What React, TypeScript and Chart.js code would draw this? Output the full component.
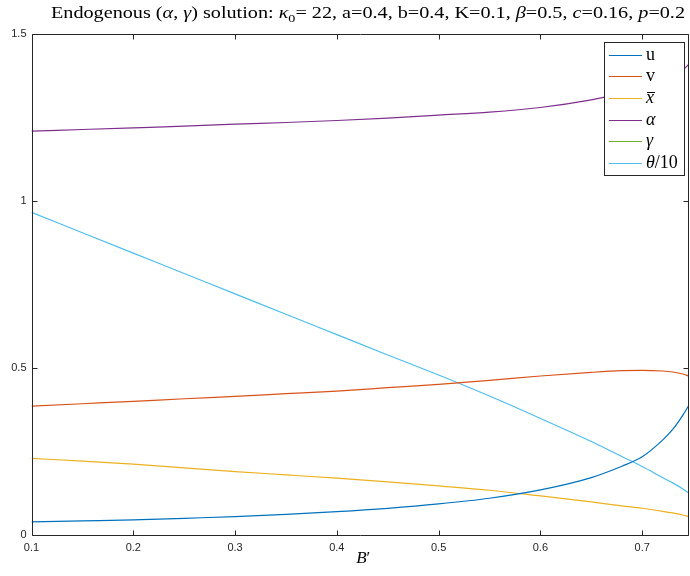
import { useEffect, useRef } from "react";
import { Chart, registerables } from "chart.js";
Chart.register(...registerables);

// B' values (x axis)
const B_PRIME = [0.1, 0.15, 0.2, 0.25, 0.3, 0.35, 0.4, 0.45, 0.5, 0.55, 0.6, 0.65, 0.68, 0.7, 0.72, 0.73, 0.74, 0.746];
const U = [0.039, 0.042, 0.045, 0.05, 0.055, 0.062, 0.07, 0.08, 0.093, 0.11, 0.135, 0.172, 0.206, 0.234, 0.284, 0.316, 0.359, 0.389];
const V = [0.386, 0.393, 0.4, 0.408, 0.415, 0.423, 0.431, 0.441, 0.451, 0.463, 0.476, 0.487, 0.492, 0.493, 0.491, 0.488, 0.482, 0.476];
const XBAR = [0.2296, 0.221, 0.212, 0.201, 0.19, 0.18, 0.17, 0.159, 0.147, 0.134, 0.117, 0.099, 0.087, 0.08, 0.071, 0.066, 0.06, 0.055];
const ALPHA = [1.209, 1.214, 1.219, 1.224, 1.23, 1.235, 1.241, 1.248, 1.257, 1.266, 1.28, 1.303, 1.322, 1.338, 1.358, 1.372, 1.392, 1.41];
// gamma is listed in the legend but not visible within the plotted range
const GAMMA: (number | null)[] = [];
const THETA10 = [0.966, 0.905, 0.844, 0.783, 0.722, 0.661, 0.6, 0.539, 0.479, 0.416, 0.349, 0.28, 0.235, 0.205, 0.172, 0.156, 0.138, 0.125];

const SERIES_LABELS = ["u", "v", "x̄", "α", "γ", "θ/10"];
const SERIES_COLORS = ["#0072BD", "#D95319", "#EDB120", "#7E2F8E", "#77AC30", "#4DBEEE"];
const X_TICKS = [0.1, 0.2, 0.3, 0.4, 0.5, 0.6, 0.7];
const Y_TICKS = [0, 0.5, 1, 1.5];
const X_MIN = 0.1;
const X_MAX = 0.746;
const Y_MIN = 0;
const Y_MAX = 1.5;

type Seg = { t: string; it?: boolean; sub?: boolean; over?: boolean };

const TITLE: Seg[] = [
  { t: "Endogenous (" },
  { t: "α", it: true },
  { t: ", " },
  { t: "γ", it: true },
  { t: ") solution: " },
  { t: "κ", it: true },
  { t: "0", sub: true },
  { t: "= 22, a=0.4, b=0.4, K=0.1, " },
  { t: "β", it: true },
  { t: "=0.5, " },
  { t: "c", it: true },
  { t: "=0.16, " },
  { t: "p", it: true },
  { t: "=0.2" },
];
const X_LABEL: Seg[] = [{ t: "B", it: true }, { t: "′" }];
const LEGEND_SEGS: Record<string, Seg[]> = {
  u: [{ t: "u" }],
  v: [{ t: "v" }],
  "x̄": [{ t: "x", it: true, over: true }],
  "α": [{ t: "α", it: true }],
  "γ": [{ t: "γ", it: true }],
  "θ/10": [{ t: "θ", it: true }, { t: "/10" }],
};

const SERIF = '"Liberation Serif", "DejaVu Serif", serif';
const AX = "#262626";

function segFont(s: Seg, size: number) {
  return `${s.it ? "italic " : ""}${s.sub ? size * 0.7 : size}px ${SERIF}`;
}
function measure(ctx: CanvasRenderingContext2D, segs: Seg[], size: number) {
  let w = 0;
  for (const s of segs) {
    ctx.font = segFont(s, size);
    w += ctx.measureText(s.t).width;
  }
  return w;
}
function drawRich(ctx: CanvasRenderingContext2D, segs: Seg[], x: number, y: number, size: number) {
  let cx = x;
  ctx.textAlign = "left";
  for (const s of segs) {
    ctx.font = segFont(s, size);
    const w = ctx.measureText(s.t).width;
    ctx.fillText(s.t, cx, s.sub ? y + size * 0.22 : y);
    if (s.over) {
      ctx.save();
      ctx.strokeStyle = ctx.fillStyle as string;
      ctx.lineWidth = 1;
      ctx.beginPath();
      const oy = Math.round(y - size * 0.58) + 0.5;
      ctx.moveTo(cx + 1, oy);
      ctx.lineTo(cx + w + 1, oy);
      ctx.stroke();
      ctx.restore();
    }
    cx += w;
  }
}

const framePlugin = {
  id: "matlabFrame",
  afterDraw(chart: any) {
    const ctx: CanvasRenderingContext2D = chart.ctx;
    const { left, right, top, bottom } = chart.chartArea;
    const xs = chart.scales.x;
    const ys = chart.scales.y;
    const L = Math.round(left) + 0.5;
    const R = Math.round(right) - 0.5;
    const T = Math.round(top) + 0.5;
    const B = Math.round(bottom) + 0.5;
    ctx.save();
    ctx.strokeStyle = AX;
    ctx.lineWidth = 1;
    ctx.beginPath();
    ctx.moveTo(L, T);
    ctx.lineTo(R, T);
    ctx.lineTo(R, B);
    ctx.lineTo(L, B);
    ctx.closePath();
    ctx.stroke();
    const tl = 5;
    ctx.beginPath();
    for (const v of X_TICKS) {
      const px = Math.round(xs.getPixelForValue(v)) + 0.5;
      ctx.moveTo(px, B);
      ctx.lineTo(px, B - tl);
      ctx.moveTo(px, T);
      ctx.lineTo(px, T + tl);
    }
    for (const v of Y_TICKS) {
      const py = Math.round(ys.getPixelForValue(v)) + 0.5;
      ctx.moveTo(L, py);
      ctx.lineTo(L + tl, py);
      ctx.moveTo(R, py);
      ctx.lineTo(R - tl, py);
    }
    ctx.stroke();

    // title (stretched horizontally to match the wider TeX-style face)
    ctx.fillStyle = "#000";
    ctx.textBaseline = "alphabetic";
    const tSize = 16;
    const tw = measure(ctx, TITLE, tSize);
    const targetW = 634;
    const sx = targetW / tw;
    ctx.save();
    ctx.translate(51, 18);
    ctx.scale(sx, 1);
    drawRich(ctx, TITLE, 0, 0, tSize);
    ctx.restore();

    // x label
    const xlSize = 17;
    const xw = measure(ctx, X_LABEL, xlSize);
    ctx.fillStyle = "#000";
    drawRich(ctx, X_LABEL, (left + right) / 2 + 3 - xw / 2, 563, xlSize);

    // legend
    const lx0 = 604.5, ly0 = 42.5, lx1 = 684.5, ly1 = 175.5;
    ctx.fillStyle = "#fff";
    ctx.fillRect(lx0, ly0, lx1 - lx0, ly1 - ly0);
    ctx.strokeStyle = AX;
    ctx.lineWidth = 1;
    ctx.strokeRect(lx0, ly0, lx1 - lx0, ly1 - ly0);
    chart.data.datasets.forEach((ds: any, i: number) => {
      const cy = 54.5 + i * 21.7;
      ctx.strokeStyle = ds.borderColor;
      ctx.lineWidth = 1;
      ctx.beginPath();
      ctx.moveTo(609, Math.round(cy) + 0.5);
      ctx.lineTo(642, Math.round(cy) + 0.5);
      ctx.stroke();
      ctx.fillStyle = "#000";
      ctx.textBaseline = "alphabetic";
      drawRich(ctx, LEGEND_SEGS[ds.label] || [{ t: ds.label }], 646, cy + 5, 18);
    });
    ctx.restore();
  },
};

export default function App() {
  const ref = useRef<HTMLCanvasElement | null>(null);
  useEffect(() => {
    if (!ref.current) return;
    const series = [U, V, XBAR, ALPHA, GAMMA, THETA10];
    const chart = new Chart(ref.current, {
      type: "line",
      data: {
        datasets: series.map((vals, i) => ({
          label: SERIES_LABELS[i],
          data: vals.map((y, j) => ({ x: B_PRIME[j], y })),
          borderColor: SERIES_COLORS[i],
          backgroundColor: SERIES_COLORS[i],
          borderWidth: 1.2,
          pointRadius: 0,
          cubicInterpolationMode: "monotone" as const,
          fill: false,
        })),
      },
      options: {
        responsive: false,
        animation: false,
        devicePixelRatio: 1,
        layout: { padding: { top: 34, right: 1, left: 0, bottom: 0 } },
        plugins: { legend: { display: false }, title: { display: false }, tooltip: { enabled: false } },
        scales: {
          x: {
            type: "linear",
            min: X_MIN,
            max: X_MAX,
            grid: { display: false, drawTicks: false },
            border: { display: false },
            afterBuildTicks: (s: any) => {
              s.ticks = X_TICKS.map((v) => ({ value: v }));
            },
            afterFit: (s: any) => {
              s.height = 41;
            },
            ticks: {
              padding: 6,
              maxRotation: 0,
              autoSkip: false,
              color: AX,
              font: { family: '"Liberation Sans", Arial, sans-serif', size: 11 },
              callback: (v: any) => String(v),
            },
          },
          y: {
            type: "linear",
            min: Y_MIN,
            max: Y_MAX,
            grid: { display: false, drawTicks: false },
            border: { display: false },
            afterBuildTicks: (s: any) => {
              s.ticks = Y_TICKS.map((v) => ({ value: v }));
            },
            afterFit: (s: any) => {
              s.width = 31.5;
            },
            ticks: {
              padding: 5,
              autoSkip: false,
              color: AX,
              font: { family: '"Liberation Sans", Arial, sans-serif', size: 11 },
              callback: (v: any) => String(v),
            },
          },
        },
      },
      plugins: [framePlugin],
    });
    return () => chart.destroy();
  }, []);
  return (
    <div style={{ position: "fixed", left: 0, top: 0, width: 690, height: 576, background: "#fff" }}>
      <canvas ref={ref} width={690} height={576} style={{ width: 690, height: 576, display: "block" }} />
    </div>
  );
}
